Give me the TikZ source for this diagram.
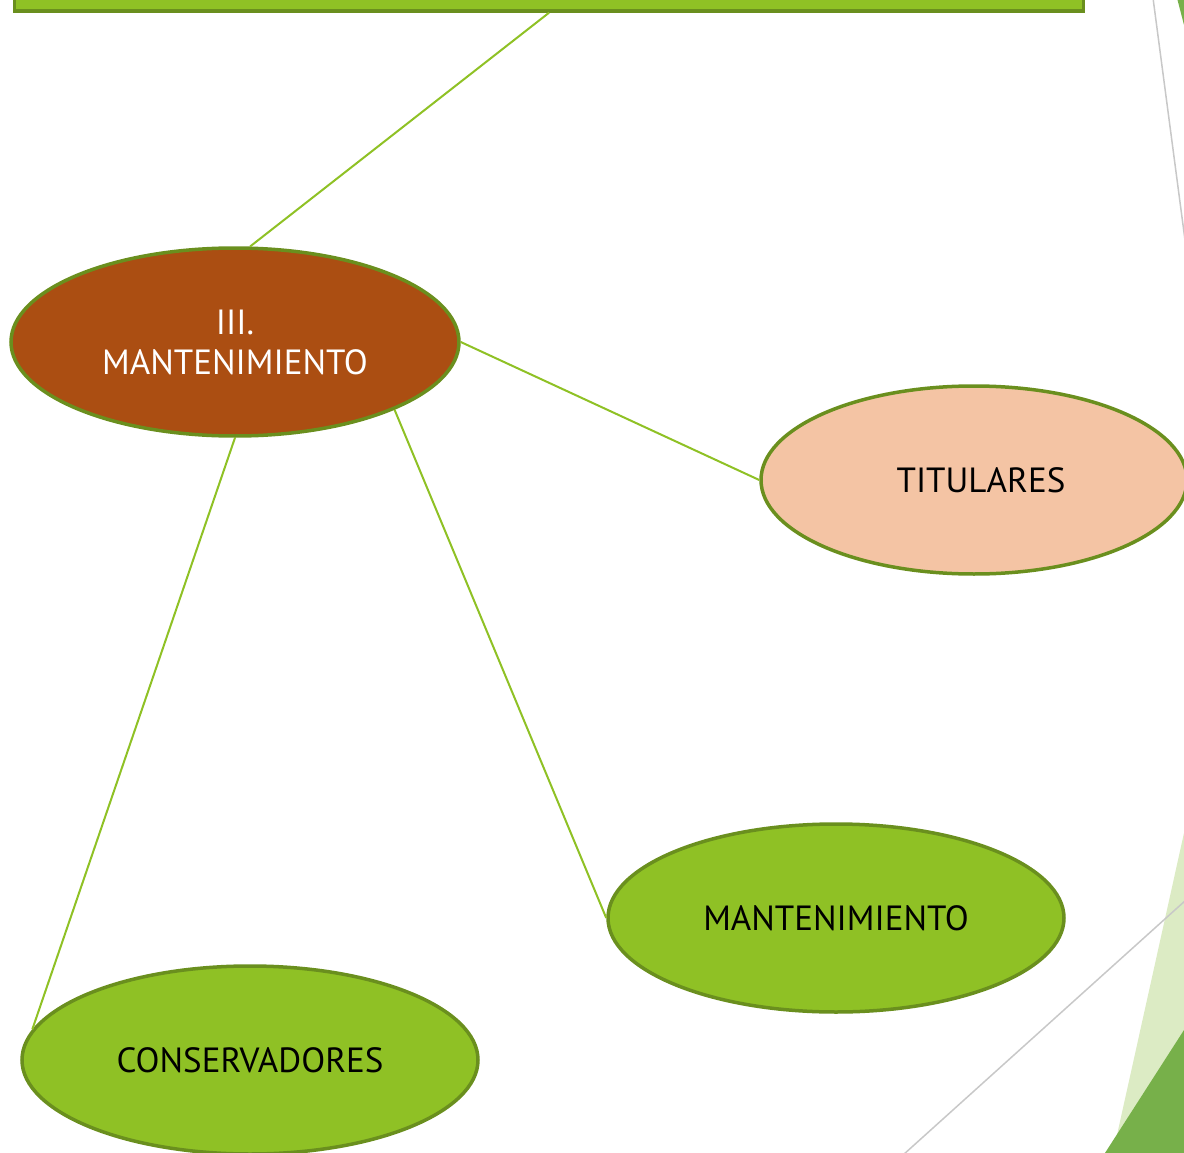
\documentclass[tikz,border=0pt]{standalone}
\usepackage{fontspec}
\setmainfont{PT Sans}
\usetikzlibrary{shapes.geometric}
\definecolor{lgreen}{HTML}{8FC125}
\definecolor{dgreen}{HTML}{6A8F1E}
\definecolor{brown1}{HTML}{AB4E12}
\definecolor{peach}{HTML}{F4C4A4}
\definecolor{pale}{HTML}{DCEBC4}
\definecolor{mgreen}{HTML}{77B04A}
\definecolor{gline}{HTML}{C8C8C8}
\tikzset{
  oval/.style={ellipse, draw=dgreen, line width=3.5pt, minimum width=454pt, minimum height=188pt, inner sep=0pt, align=center, font=\fontsize{35}{40}\selectfont},
  conn/.style={draw=lgreen, line width=2pt},
}
\begin{document}
\begin{tikzpicture}[x=1pt,y=-1pt]
\useasboundingbox (0,0) rectangle (1184,1153);
\clip (0,0) rectangle (1184,1153);
% background decorations
\fill[pale] (1184,833) -- (1113,1153) -- (1184,1153) -- cycle;
\fill[mgreen] (1184,1030) -- (1105,1153) -- (1184,1153) -- cycle;
\fill[mgreen] (1177,-2) -- (1184,25) -- (1184,-2) -- cycle;
\draw[gline, line width=1.5pt] (1153,-2) -- (1185,240);
\draw[gline, line width=1.5pt] (903,1155) -- (1186,900);
% top bar
\node[draw=dgreen, fill=lgreen, line width=3.5pt, minimum width=1069pt, minimum height=60pt, inner sep=0pt] (top) at (549,-19) {};
% ellipses
\node[oval, fill=brown1, text=white, minimum width=448pt] (main) at (235,342) {III.\\MANTENIMIENTO};
\node[oval, fill=peach, minimum width=426pt] (tit) at (974,480) {\hspace*{14pt}TITULARES};
\node[oval, fill=lgreen, minimum width=456pt] (man) at (836,918) {MANTENIMIENTO};
\node[oval, fill=lgreen, minimum width=456pt] (con) at (250,1060) {CONSERVADORES};
% connectors
\draw[conn] (top.south) -- (main.81);
\draw[conn] (main.east) -- (tit.west);
\draw[conn] (main.-23) -- (man.west);
\draw[conn] (main.south) -- (con.172);
\end{tikzpicture}
\end{document}
